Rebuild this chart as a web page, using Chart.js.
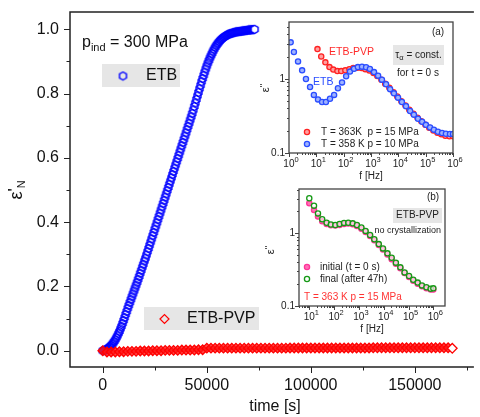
<!DOCTYPE html>
<html>
<head>
<meta charset="utf-8">
<script src="https://cdn.jsdelivr.net/npm/chart.js@4.4.1/dist/chart.umd.min.js"></script>
<style>
html, body { margin: 0; padding: 0; background: #fff; }
#wrap { position: relative; width: 480px; height: 417px; overflow: hidden; }
#wrap canvas { position: absolute; }
</style>
</head>
<body>
<div id="wrap">
  <canvas id="main" width="480" height="417" style="left:0;top:0"></canvas>
  <canvas id="insetA" width="208" height="172" style="left:258px;top:16px"></canvas>
  <canvas id="insetB" width="196" height="153" style="left:262px;top:183px"></canvas>
</div>
<script>
// --- main plot: normalised permittivity vs time ---
const etbTime = [0, 500, 1000, 1500, 2000, 2500, 3000, 3500, 4000, 4500,
  5000, 5500, 6000, 6500, 7000, 7500, 8000, 8500, 9000, 9500,
  10000, 10500, 11000, 11500, 12000, 12500, 13000, 13500, 14000, 14500,
  15000, 15500, 16000, 16500, 17000, 17500, 18000, 18500, 19000, 19500,
  20000, 20500, 21000, 21500, 22000, 22500, 23000, 23500, 24000, 24500,
  25000, 25500, 26000, 26500, 27000, 27500, 28000, 28500, 29000, 29500,
  30000, 30500, 31000, 31500, 32000, 32500, 33000, 33500, 34000, 34500,
  35000, 35500, 36000, 36500, 37000, 37500, 38000, 38500, 39000, 39500,
  40000, 40500, 41000, 41500, 42000, 42500, 43000, 43500, 44000, 44500,
  45000, 45500, 46000, 46500, 47000, 47500, 48000, 48500, 49000, 49500,
  50000, 50500, 51000, 51500, 52000, 52500, 53000, 53500, 54000, 54500,
  55000, 55500, 56000, 56500, 57000, 57500, 58000, 58500, 59000, 59500,
  60000, 60500, 61000, 61500, 62000, 62500, 63000, 63500, 64000, 64500,
  65000, 65500, 66000, 66500, 67000, 67500, 68000, 68500, 69000, 69500,
  70000, 70500, 71000, 71500, 72000, 72500, 73000];
const etbValue = [0, 0.001, 0.002, 0.003, 0.005, 0.007, 0.010, 0.013, 0.016, 0.020,
  0.024, 0.029, 0.034, 0.040, 0.046, 0.053, 0.060, 0.068, 0.076, 0.085,
  0.094, 0.103, 0.113, 0.122, 0.132, 0.141, 0.150, 0.159, 0.168, 0.177,
  0.186, 0.195, 0.204, 0.213, 0.222, 0.231, 0.241, 0.250, 0.260, 0.269,
  0.279, 0.288, 0.298, 0.308, 0.318, 0.328, 0.338, 0.348, 0.358, 0.368,
  0.378, 0.388, 0.398, 0.408, 0.418, 0.428, 0.438, 0.448, 0.458, 0.468,
  0.478, 0.488, 0.498, 0.508, 0.518, 0.528, 0.538, 0.548, 0.558, 0.568,
  0.578, 0.588, 0.598, 0.608, 0.618, 0.628, 0.638, 0.648, 0.658, 0.668,
  0.678, 0.688, 0.698, 0.708, 0.718, 0.728, 0.738, 0.749, 0.760, 0.771,
  0.782, 0.793, 0.804, 0.815, 0.826, 0.837, 0.847, 0.857, 0.867, 0.877,
  0.886, 0.895, 0.903, 0.911, 0.918, 0.925, 0.932, 0.938, 0.944, 0.949,
  0.954, 0.958, 0.962, 0.966, 0.969, 0.972, 0.975, 0.977, 0.979, 0.981,
  0.983, 0.985, 0.986, 0.987, 0.988, 0.989, 0.990, 0.991, 0.992, 0.992,
  0.993, 0.993, 0.994, 0.994, 0.995, 0.995, 0.996, 0.996, 0.997, 0.997,
  0.998, 0.998, 0.998, 0.999, 0.999, 0.999, 1.000];
const pvpTime = [0, 2000, 4000, 6000, 8000, 10000, 12000, 14000, 16000, 18000,
  20000, 22000, 24000, 26000, 28000, 30000, 32000, 34000, 36000, 38000,
  40000, 42000, 44000, 46000, 48000, 50000, 52000, 54000, 56000, 58000,
  60000, 62000, 64000, 66000, 68000, 70000, 72000, 74000, 76000, 78000,
  80000, 82000, 84000, 86000, 88000, 90000, 92000, 94000, 96000, 98000,
  100000, 102000, 104000, 106000, 108000, 110000, 112000, 114000, 116000, 118000,
  120000, 122000, 124000, 126000, 128000, 130000, 132000, 134000, 136000, 138000,
  140000, 142000, 144000, 146000, 148000, 150000, 152000, 154000, 156000, 158000,
  160000, 162000, 164000, 166000, 168000];
const pvpValue = [0, -0.004, -0.004, -0.004, -0.003, -0.003, -0.002, -0.002, -0.002, -0.001,
  -0.001, -0.001, 0, 0, 0, 0.001, 0.001, 0.001, 0.001, 0.002,
  0.002, 0.002, 0.002, 0.003, 0.003, 0.008, 0.008, 0.008, 0.008, 0.008,
  0.008, 0.008, 0.008, 0.008, 0.008, 0.008, 0.008, 0.008, 0.008, 0.008,
  0.008, 0.008, 0.008, 0.008, 0.008, 0.0085, 0.0085, 0.0085, 0.0085, 0.0085,
  0.0085, 0.0085, 0.0085, 0.0085, 0.0085, 0.0085, 0.0085, 0.0085, 0.0085, 0.0085,
  0.0085, 0.0085, 0.0085, 0.0085, 0.0085, 0.009, 0.009, 0.009, 0.009, 0.009,
  0.009, 0.009, 0.009, 0.009, 0.009, 0.009, 0.009, 0.009, 0.009, 0.009,
  0.009, 0.009, 0.009, 0.009, 0.0075];
const mainXTicks = [0, 50000, 100000, 150000];
const mainXMinor = [25000, 75000, 125000, 175000];
const mainYTicks = [0, 0.2, 0.4, 0.6, 0.8, 1.0];
const mainYMinor = [0.1, 0.3, 0.5, 0.7, 0.9];

// --- inset (a): loss spectra at t = 0 ---
const aFreqEtb = [1.15, 1.51, 2.14, 3.02, 4.17, 5.89, 8.13, 11.5, 16.2, 22.4, 31.6, 44.7, 61.7, 87.1,
  123, 170, 240, 331, 468, 661, 912, 1290, 1820, 2510, 3550, 5010, 6920, 9770,
  13500, 19100, 26900, 37200, 52500, 74100, 102000, 145000, 200000, 282000, 398000, 550000, 776000, 1000000];
const aEpsEtb = [3.13, 2.32, 1.73, 1.31, 1.0, 0.78, 0.61, 0.53, 0.49, 0.49, 0.54, 0.61, 0.75, 0.90,
  1.09, 1.26, 1.38, 1.45, 1.47, 1.44, 1.37, 1.24, 1.11, 0.98, 0.85, 0.73, 0.64, 0.56,
  0.49, 0.43, 0.37, 0.33, 0.29, 0.265, 0.24, 0.222, 0.207, 0.194, 0.186, 0.182, 0.181, 0.181];
const aFreqPvp = [11.0, 15.1, 21.4, 30.2, 41.7, 58.9, 81.3, 115, 162, 224, 316, 447, 617, 871,
  1230, 1700, 2400, 3310, 4680, 6610, 9120, 12900, 18200, 25100, 35500, 50100, 69200, 97700,
  135000, 191000, 269000, 372000, 525000, 741000, 1000000];
const aEpsPvp = [2.54, 2.02, 1.68, 1.45, 1.34, 1.28, 1.28, 1.31, 1.36, 1.41, 1.42, 1.41, 1.36, 1.30,
  1.21, 1.10, 0.98, 0.86, 0.76, 0.66, 0.58, 0.50, 0.44, 0.385, 0.34, 0.30, 0.268, 0.24,
  0.22, 0.202, 0.188, 0.179, 0.171, 0.168, 0.168];
const aXTicks = [1, 10, 100, 1000, 10000, 100000, 1000000];
const aYTicks = [0.1, 1];

// --- inset (b): ETB-PVP initial vs final ---
const bFreq = [10, 15.5, 22.4, 33.1, 50.1, 74.1, 112, 166, 251, 372, 562, 832, 1260, 1860, 2820,
  4170, 6310, 9330, 14100, 20900, 30900, 46800, 69200, 105000, 155000, 234000, 347000, 525000, 776000, 1000000];
const bEpsFinal = [3.03, 2.40, 1.88, 1.56, 1.40, 1.32, 1.30, 1.34, 1.39, 1.40, 1.37, 1.30, 1.20, 1.08, 0.95,
  0.83, 0.71, 0.62, 0.53, 0.46, 0.395, 0.34, 0.29, 0.259, 0.23, 0.21, 0.192, 0.181, 0.173, 0.175];
const bEpsInitial = [2.59, 2.10, 1.70, 1.46, 1.34, 1.29, 1.28, 1.30, 1.34, 1.36, 1.33, 1.26, 1.16, 1.04, 0.92,
  0.80, 0.69, 0.60, 0.51, 0.44, 0.38, 0.33, 0.285, 0.25, 0.223, 0.203, 0.187, 0.175, 0.168, 0.168];
const bXTicks = [10, 100, 1000, 10000, 100000, 1000000];
const bYTicks = [0.1, 1];

const FONT = '"Liberation Sans", Arial, sans-serif';

// helpers
const pts = (xs, ys) => xs.map((v, i) => ({ x: v, y: ys[i] }));

function hexImage(stroke, fill) {
  const c = document.createElement('canvas');
  c.width = c.height = 11;
  const g = c.getContext('2d');
  g.beginPath();
  for (let k = 0; k < 6; k++) {
    const ang = Math.PI / 6 + k * Math.PI / 3;
    const px = 5.5 + 4 * Math.cos(ang), py = 5.5 + 4 * Math.sin(ang);
    k ? g.lineTo(px, py) : g.moveTo(px, py);
  }
  g.closePath();
  if (fill) { g.fillStyle = fill; g.fill(); }
  g.strokeStyle = stroke; g.lineWidth = 1.4; g.stroke();
  return c;
}

// parts: [text, size, dy]
function rich(ctx, parts, x, y, align) {
  let w = 0;
  parts.forEach(p => { ctx.font = p[1] + 'px ' + FONT; w += ctx.measureText(p[0]).width; });
  let cx = align === 'center' ? x - w / 2 : align === 'right' ? x - w : x;
  ctx.textAlign = 'left';
  ctx.textBaseline = 'middle';
  parts.forEach(p => {
    ctx.font = p[1] + 'px ' + FONT;
    ctx.fillText(p[0], cx, y + (p[2] || 0));
    cx += ctx.measureText(p[0]).width;
  });
}

function tickLines(ctx, scale, vals, len, a, horiz) {
  ctx.beginPath();
  vals.forEach(v => {
    const p = Math.round(scale.getPixelForValue(v)) + 0.5;
    if (horiz) { ctx.moveTo(p, a.bottom); ctx.lineTo(p, a.bottom + len); }
    else { ctx.moveTo(a.left, p); ctx.lineTo(a.left - len, p); }
  });
  ctx.stroke();
}

function logMinors(lo, hi) {
  const out = [];
  for (let d = lo; d < hi; d *= 10) for (let m = 2; m <= 9; m++) out.push(d * m);
  return out;
}

function grayBox(ctx, x, y, w, h) {
  ctx.fillStyle = '#e6e6e6';
  ctx.fillRect(x, y, w, h);
}

function fixedAxes(xh, yw) {
  const common = { grid: { display: false }, border: { display: false }, ticks: { display: false } };
  return {
    x: Object.assign({}, common, { afterFit: s => { s.height = xh; } }),
    y: Object.assign({}, common, { afterFit: s => { s.width = yw; } })
  };
}

// ---------- main chart ----------
const hexBlue = hexImage('#0000ff', null);
const hexWhite = hexImage('#0000ff', '#ffffff');

const mainDeco = {
  id: 'mainDeco',
  afterDraw(chart) {
    const { ctx, chartArea: a, scales: { x, y } } = chart;
    ctx.save();
    ctx.strokeStyle = '#222';
    ctx.lineWidth = 1.5;
    ctx.beginPath();
    ctx.moveTo(a.right, a.top); ctx.lineTo(a.left, a.top);
    ctx.lineTo(a.left, a.bottom); ctx.lineTo(a.right, a.bottom);
    ctx.stroke();
    ctx.lineWidth = 1;
    tickLines(ctx, x, mainXTicks, 6, a, true);
    tickLines(ctx, x, mainXMinor, 3.5, a, true);
    tickLines(ctx, y, mainYTicks, 6, a, false);
    tickLines(ctx, y, mainYMinor, 3.5, a, false);

    ctx.fillStyle = '#111';
    mainXTicks.forEach(v => rich(ctx, [[String(v), 16]], x.getPixelForValue(v), a.bottom + 19, 'center'));
    mainYTicks.forEach(v => rich(ctx, [[v.toFixed(1), 16]], a.left - 11, y.getPixelForValue(v), 'right'));
    rich(ctx, [['time [s]', 16]], 275, 407, 'center');

    ctx.save();
    ctx.translate(17, 190);
    ctx.rotate(-Math.PI / 2);
    rich(ctx, [['\u03b5', 18], ['\'', 17, -2], ['N', 11, 5]], 0, 0, 'center');
    ctx.restore();

    rich(ctx, [['p', 16], ['ind', 11, 5], [' = 300 MPa', 16]], 82, 43, 'left');

    // legend boxes
    grayBox(ctx, 102, 64, 78, 23);
    ctx.drawImage(hexBlue, 123 - 5.5, 76 - 5.5);
    ctx.fillStyle = '#111';
    rich(ctx, [['ETB', 16]], 146, 76, 'left');

    grayBox(ctx, 144, 307, 115, 23);
    ctx.strokeStyle = '#ff0000'; ctx.lineWidth = 1.2;
    ctx.beginPath();
    ctx.moveTo(160, 319); ctx.lineTo(164.5, 314.5); ctx.lineTo(169, 319); ctx.lineTo(164.5, 323.5);
    ctx.closePath(); ctx.stroke();
    ctx.fillStyle = '#111';
    rich(ctx, [['ETB-PVP', 16]], 187, 319, 'left');
    ctx.restore();
  }
};

const mainAxes = fixedAxes(50, 70);
mainAxes.x.type = 'linear'; mainAxes.x.min = -15770; mainAxes.x.max = 178400;
mainAxes.y.type = 'linear'; mainAxes.y.min = -0.0507; mainAxes.y.max = 1.054;

new Chart(document.getElementById('main'), {
  type: 'scatter',
  data: {
    datasets: [
      {
        data: pts(pvpTime, pvpValue),
        pointStyle: 'rectRot', pointRadius: 4.8, borderWidth: 1.3,
        borderColor: '#ff0000',
        backgroundColor: pvpTime.map((t, i) => i === pvpTime.length - 1 ? '#ffffff' : 'rgba(255,20,20,0.8)')
      },
      {
        data: pts(etbTime, etbValue),
        pointStyle: etbTime.map((t, i) => i === etbTime.length - 1 ? hexWhite : hexBlue),
        pointRadius: 4, borderColor: '#0000ff'
      }
    ]
  },
  options: {
    responsive: false, animation: false,
    layout: { padding: { top: 12, right: 0, left: 0, bottom: 0 } },
    plugins: { legend: { display: false }, tooltip: { enabled: false } },
    scales: mainAxes
  },
  plugins: [mainDeco]
});

// ---------- inset charts ----------
function insetFrame(chart, xTicks, xMinor, yTicks, yMinor) {
  const { ctx, chartArea: a, scales: { x, y } } = chart;
  ctx.strokeStyle = '#444';
  ctx.lineWidth = 1.3;
  ctx.strokeRect(a.left, a.top, a.right - a.left, a.bottom - a.top);
  ctx.lineWidth = 1;
  tickLines(ctx, x, xTicks, 4, a, true);
  tickLines(ctx, x, xMinor, 2, a, true);
  tickLines(ctx, y, yTicks, 4, a, false);
  tickLines(ctx, y, yMinor, 2, a, false);
  ctx.fillStyle = '#222';
  xTicks.forEach(v => {
    const e = Math.round(Math.log10(v));
    rich(ctx, [['10', 10], [String(e), 7.5, -4]], x.getPixelForValue(v) + 2, a.bottom + 11, 'center');
  });
  yTicks.forEach(v => rich(ctx, [[String(v), 10]], a.left - 4, y.getPixelForValue(v), 'right'));
  rich(ctx, [['f [Hz]', 10]], (a.left + a.right) / 2, a.bottom + 23, 'center');
}

function epsLabel(ctx, x, y) {
  ctx.save();
  ctx.translate(x, y);
  ctx.rotate(-Math.PI / 2);
  rich(ctx, [['\u03b5', 11], ['\'\'', 9, -2]], 0, 0, 'center');
  ctx.restore();
}

function dot(ctx, x, y, stroke, fill) {
  ctx.beginPath();
  ctx.arc(x, y, 2.6, 0, Math.PI * 2);
  ctx.fillStyle = fill; ctx.fill();
  ctx.strokeStyle = stroke; ctx.lineWidth = 1.3; ctx.stroke();
}

const decoA = {
  id: 'decoA',
  afterDraw(chart) {
    const { ctx } = chart;
    ctx.save();
    insetFrame(chart, aXTicks, logMinors(1, 1000000), aYTicks, logMinors(0.1, 10).filter(v => v < 5.9));
    epsLabel(ctx, 8, 72);
    ctx.fillStyle = '#222';
    rich(ctx, [['(a)', 10]], 180, 16, 'center');
    ctx.fillStyle = '#ff2a2a';
    rich(ctx, [['ETB-PVP', 10.5]], 71, 36, 'left');
    ctx.fillStyle = '#2a4dff';
    rich(ctx, [['ETB', 10.5]], 55, 66, 'left');
    grayBox(ctx, 135, 29, 51, 20);
    ctx.fillStyle = '#222';
    rich(ctx, [['\u03c4', 10], ['\u03b1', 7.5, 3], [' = const.', 10]], 160.5, 39, 'center');
    rich(ctx, [['for t = 0 s', 10]], 139, 57, 'left');
    dot(ctx, 49, 116, '#ff2222', '#ff9f9f');
    ctx.fillStyle = '#222';
    rich(ctx, [['T = 363K  p = 15 MPa', 10]], 63, 116, 'left');
    dot(ctx, 49, 128, '#2a4dff', '#9fb3ff');
    ctx.fillStyle = '#222';
    rich(ctx, [['T = 358 K p = 10 MPa', 10]], 63, 128, 'left');
    ctx.restore();
  }
};

const axesA = fixedAxes(35, 31);
axesA.x.type = 'logarithmic'; axesA.x.min = 1; axesA.x.max = 1000000;
axesA.y.type = 'logarithmic'; axesA.y.min = 0.1; axesA.y.max = 5.9;

new Chart(document.getElementById('insetA'), {
  type: 'scatter',
  data: {
    datasets: [
      { data: pts(aFreqEtb, aEpsEtb), pointRadius: 2.6, borderWidth: 1.3, borderColor: '#2a4dff', backgroundColor: '#9fb3ff' },
      { data: pts(aFreqPvp, aEpsPvp), pointRadius: 2.6, borderWidth: 1.3, borderColor: '#ff2222', backgroundColor: '#ff9f9f' }
    ]
  },
  options: {
    responsive: false, animation: false,
    layout: { padding: { top: 6, right: 13, left: 0, bottom: 0 } },
    plugins: { legend: { display: false }, tooltip: { enabled: false } },
    scales: axesA
  },
  plugins: [decoA]
});

const decoB = {
  id: 'decoB',
  afterDraw(chart) {
    const { ctx } = chart;
    ctx.save();
    insetFrame(chart, bXTicks, logMinors(1, 1000000).filter(v => v > 3.85 && v < 2.95e6), bYTicks,
      logMinors(0.1, 10).filter(v => v < 4.07));
    epsLabel(ctx, 9, 67);
    ctx.fillStyle = '#222';
    rich(ctx, [['(b)', 10]], 171, 14, 'center');
    grayBox(ctx, 131, 25, 49, 15);
    ctx.fillStyle = '#222';
    rich(ctx, [['ETB-PVP', 10]], 155.5, 32.5, 'center');
    rich(ctx, [['no crystallization', 9]], 179, 48, 'right');
    dot(ctx, 45, 84, '#ff3399', '#ff70b5');
    ctx.fillStyle = '#222';
    rich(ctx, [['initial (t = 0 s)', 10]], 58, 84, 'left');
    dot(ctx, 45, 96, '#159915', '#ffffff');
    ctx.fillStyle = '#222';
    rich(ctx, [['final (after 47h)', 10]], 58, 96, 'left');
    ctx.fillStyle = '#ff3333';
    rich(ctx, [['T = 363 K p = 15 MPa', 10]], 42, 114, 'left');
    ctx.restore();
  }
};

const axesB = fixedAxes(30, 37);
axesB.x.type = 'logarithmic'; axesB.x.min = 3.85; axesB.x.max = 2.95e6;
axesB.y.type = 'logarithmic'; axesB.y.min = 0.1; axesB.y.max = 4.07;

new Chart(document.getElementById('insetB'), {
  type: 'scatter',
  data: {
    datasets: [
      { data: pts(bFreq, bEpsFinal), pointRadius: 2.6, borderWidth: 1.3, borderColor: '#159915', backgroundColor: 'rgba(255,255,255,0.6)' },
      { data: pts(bFreq, bEpsInitial), pointRadius: 2.6, borderWidth: 1.3, borderColor: '#ff3399', backgroundColor: '#ff70b5' }
    ]
  },
  options: {
    responsive: false, animation: false,
    layout: { padding: { top: 6, right: 13, left: 0, bottom: 0 } },
    plugins: { legend: { display: false }, tooltip: { enabled: false } },
    scales: axesB
  },
  plugins: [decoB]
});
</script>
</body>
</html>
